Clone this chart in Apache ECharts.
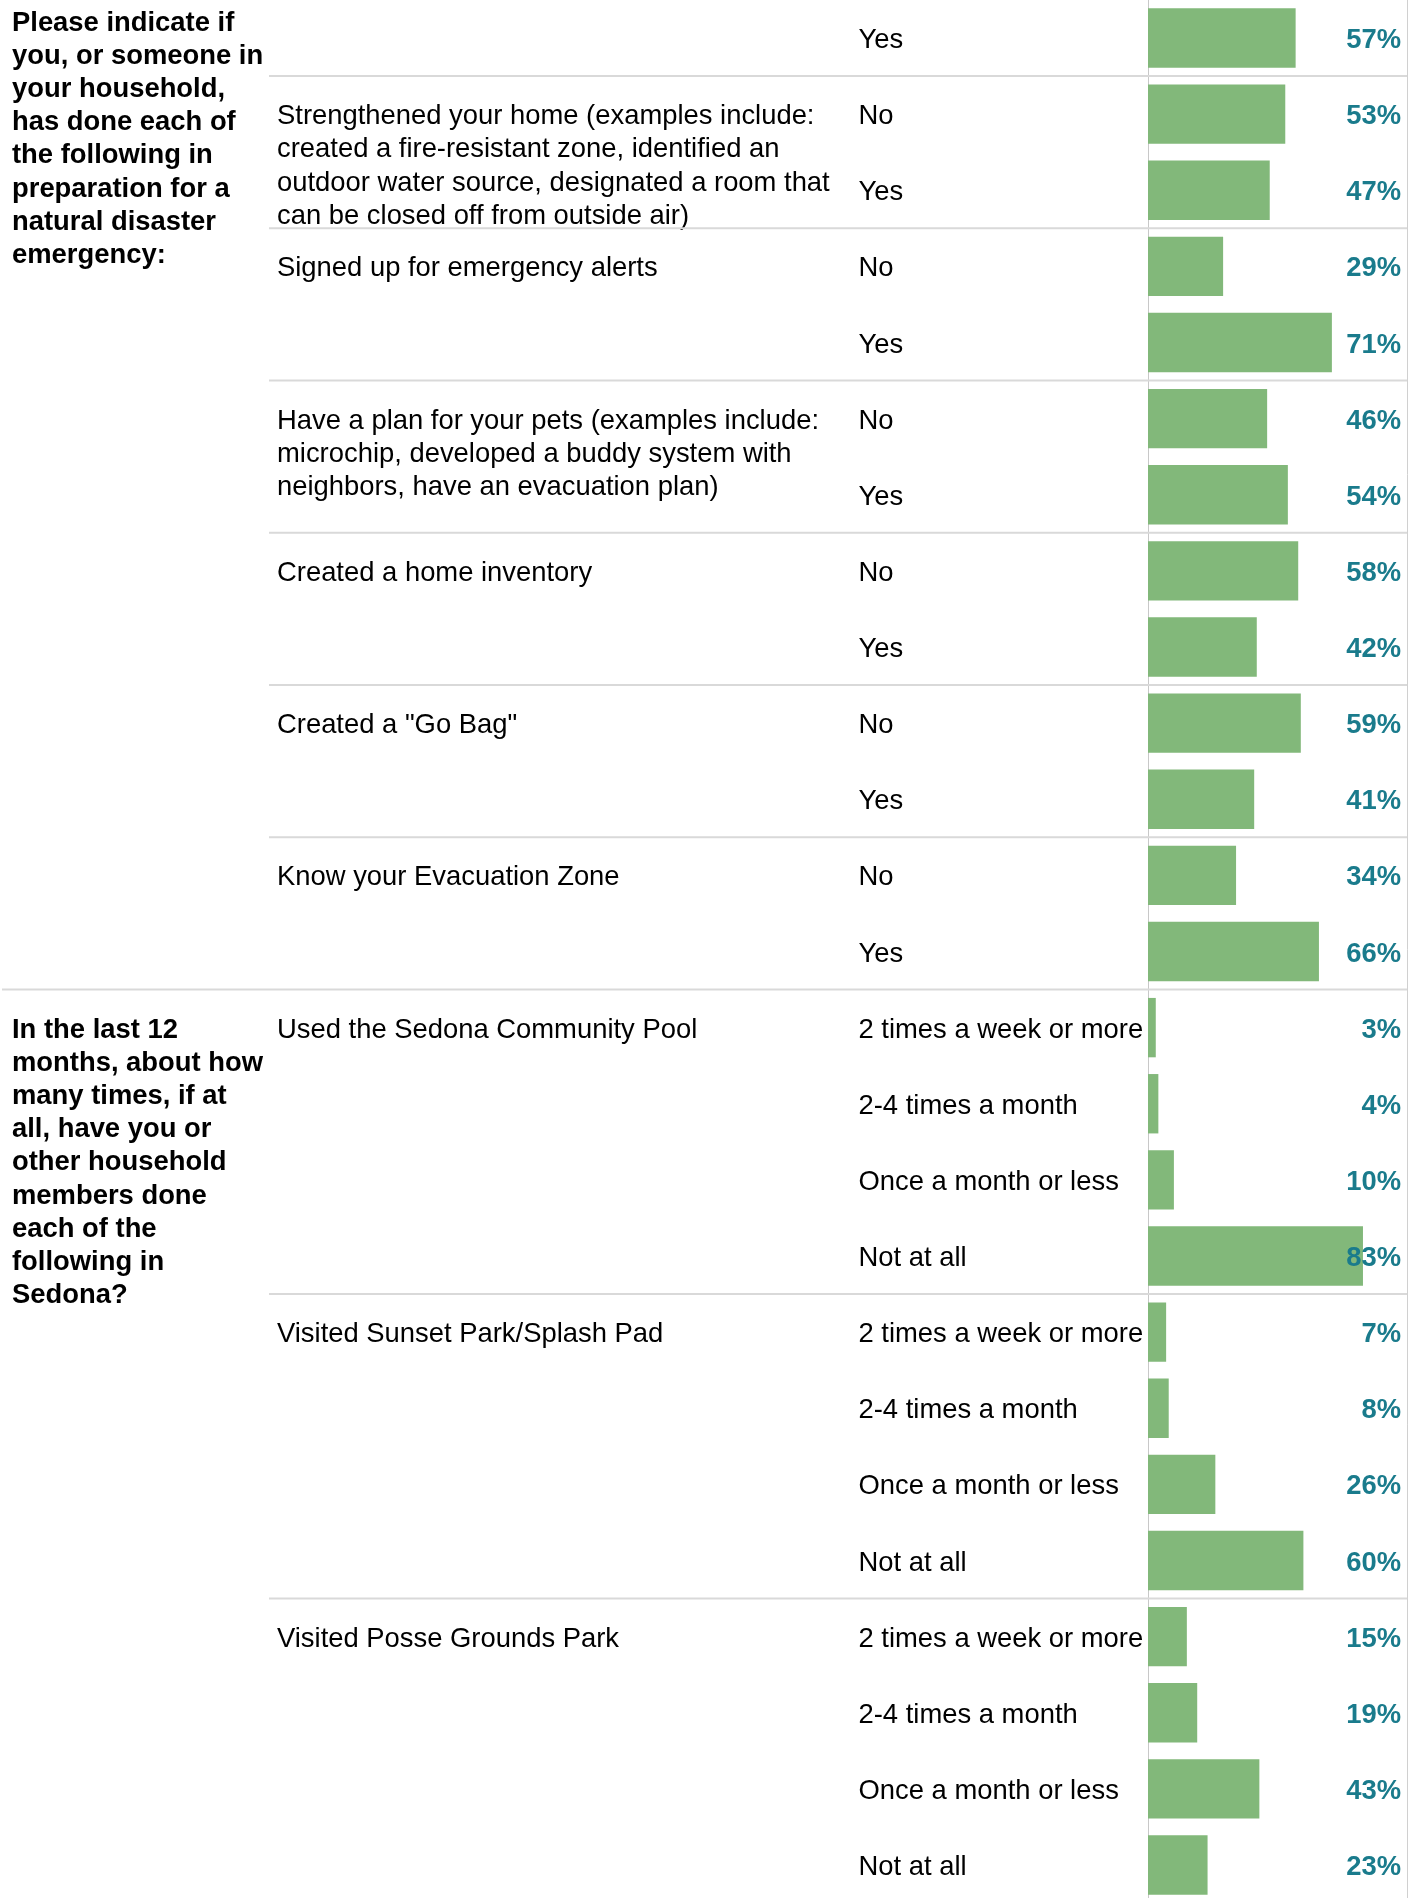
<!DOCTYPE html>
<html>
<head>
<meta charset="utf-8">
<script src="https://cdn.jsdelivr.net/npm/echarts@6/dist/echarts.min.js"></script>
<style>
html,body{margin:0;padding:0;background:#fff;}
#chart{width:1419px;height:1898px;}
</style>
</head>
<body>
<div id="chart"></div>
<script>
// ---- data ----
const questions = [
  "Please indicate if\nyou, or someone in\nyour household,\nhas done each of\nthe following in\npreparation for a\nnatural disaster\nemergency:",
  "In the last 12\nmonths, about how\nmany times, if at\nall, have you or\nother household\nmembers done\neach of the\nfollowing in\nSedona?"
];
const sectionSizes = [13, 12];
const topics = [
  "",
  "Strengthened your home (examples include:\ncreated a fire-resistant zone, identified an\noutdoor water source, designated a room that\ncan be closed off from outside air)", "",
  "Signed up for emergency alerts", "",
  "Have a plan for your pets (examples include:\nmicrochip, developed a buddy system with\nneighbors, have an evacuation plan)", "",
  "Created a home inventory", "",
  "Created a \"Go Bag\"", "",
  "Know your Evacuation Zone", "",
  "Used the Sedona Community Pool", "", "", "",
  "Visited Sunset Park/Splash Pad", "", "", "",
  "Visited Posse Grounds Park", "", "", ""
];
const freq = ["2 times a week or more", "2-4 times a month", "Once a month or less", "Not at all"];
const responses = ["Yes", "No", "Yes", "No", "Yes", "No", "Yes", "No", "Yes", "No", "Yes", "No", "Yes"]
  .concat(freq, freq, freq);
const values = [57, 53, 47, 29, 71, 46, 54, 58, 42, 59, 41, 34, 66,
  3, 4, 10, 83, 7, 8, 26, 60, 15, 19, 43, 23];

// ---- layout / style ----
const FONT = "'Liberation Sans', Arial, Helvetica, sans-serif";
const FS = 27.4, LH = 33.2, DY = 2.5;
const COL1_X = 12, COL2_X = 277, COL3_X = 858.5, SEP_X = 269, GRID_LEFT = 1148;
const sectionStart = [];
{ let s = 0; sectionSizes.forEach(n => { sectionStart.push(s); s += n; }); }

const chart = echarts.init(document.getElementById('chart'), null, {renderer: 'canvas'});
chart.setOption({
  animation: false,
  backgroundColor: '#fff',
  grid: {left: GRID_LEFT, right: 12, top: 0, height: 1903, containLabel: false, outerBoundsMode: 'none'},
  xAxis: {type: 'value', min: 0, max: 100, show: false},
  yAxis: [{
    type: 'category', data: responses, inverse: true,
    axisLine: {show: true, lineStyle: {color: '#c8c8c8', width: 1}},
    axisTick: {show: false},
    splitLine: {show: false},
    axisLabel: {show: false}
  }, {
    type: 'category', data: responses, inverse: true, position: 'right',
    axisLine: {show: true, lineStyle: {color: '#d0d0d0', width: 1}},
    axisTick: {show: false}, axisLabel: {show: false}
  }],
  series: [{
    type: 'bar', data: values, barCategoryGap: '22%',
    itemStyle: {color: '#82b87a'}, z: 2
  }, {
    type: 'custom', z: 5, clip: false,
    data: values.map((v, i) => [v, i]),
    encode: {x: 0, y: 1},
    renderItem: function (params, api) {
      const i = params.dataIndex;
      const cy = api.coord([0, i])[1];
      const band = api.size([0, 1])[1];
      const top = cy - band / 2;
      const right = api.coord([100, i])[0];
      const children = [];
      // response label
      children.push({
        type: 'text',
        style: {text: responses[i], x: COL3_X, y: cy + DY, align: 'left', verticalAlign: 'middle',
          font: FS + 'px ' + FONT, fill: '#000'}
      });
      // percent label
      children.push({
        type: 'text', z2: 10,
        style: {text: values[i] + '%', x: right - 6, y: cy + DY, align: 'right', verticalAlign: 'middle',
          font: 'bold ' + FS + 'px ' + FONT, fill: '#1a7b8c'}
      });
      const sec = sectionStart.indexOf(i);
      // separators
      if (i > 0 && (topics[i] !== '' || sec >= 0)) {
        children.push({
          type: 'line', z2: 1,
          shape: {x1: sec >= 0 ? 2 : SEP_X, y1: top, x2: right, y2: top},
          style: {stroke: '#d9d9d9', lineWidth: 2}
        });
      }
      // topic text
      if (topics[i]) {
        children.push({
          type: 'text',
          style: {text: topics[i], x: COL2_X, y: cy - LH / 2 + DY, align: 'left', verticalAlign: 'top',
            lineHeight: LH, font: FS + 'px ' + FONT, fill: '#000'}
        });
      }
      // question text
      if (sec >= 0) {
        const y = (sec === 0 ? top + 4 : cy - LH / 2) + DY;
        children.push({
          type: 'text',
          style: {text: questions[sec], x: COL1_X, y: y, align: 'left', verticalAlign: 'top',
            lineHeight: LH, font: 'bold ' + FS + 'px ' + FONT, fill: '#000'}
        });
      }
      return {type: 'group', children: children};
    }
  }]
});
</script>
</body>
</html>
